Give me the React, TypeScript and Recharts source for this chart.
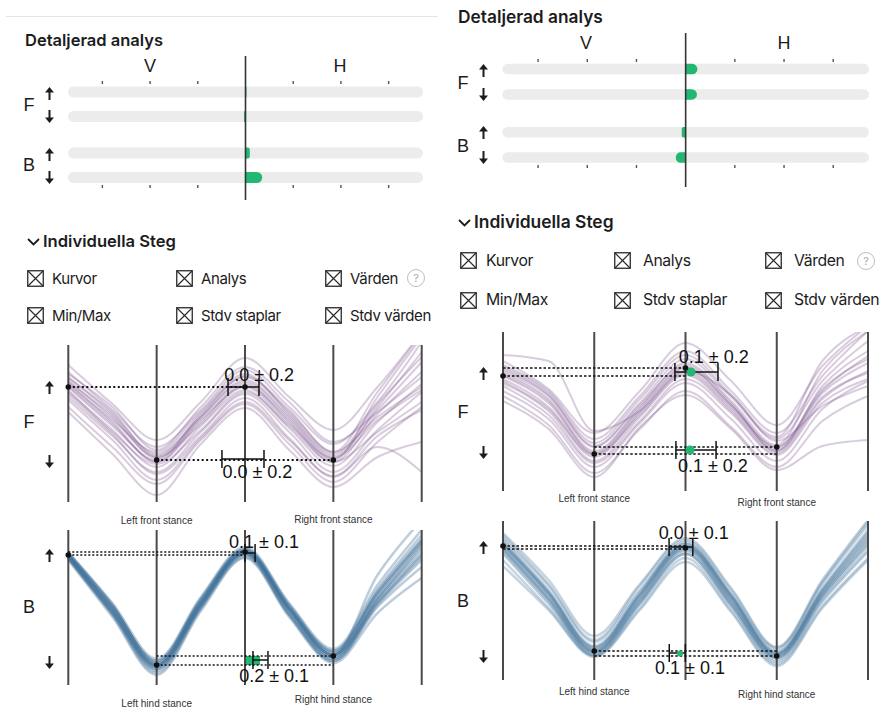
import React from "react";
import {
  BarChart,
  Bar,
  ComposedChart,
  Line,
  Scatter,
  ErrorBar,
  XAxis,
  YAxis,
  ReferenceLine,
  ReferenceDot,
  ReferenceArea,
} from "recharts";

// ---------------------------------------------------------------------------
// Data
// ---------------------------------------------------------------------------

// detail bars: rows F up, F down, (gap), B up, B down
const BAR_ROWS = [0, 1, 2.5, 3.5];
const BAR_TICKS = [-3, -2, -1, 1, 2, 3];
const LEFT_BAR_VALUES = [0.02, -0.03, 0.09, 0.35];
const RIGHT_BAR_VALUES = [0.24, 0.23, -0.08, -0.2];

const CHECK_ROW_1 = ["Kurvor", "Analys", "Värden"];
const CHECK_ROW_2 = ["Min/Max", "Stdv staplar", "Stdv värden"];

// step curves, sampled at STEP_X
const STEP_X = [0, 0.5, 1, 1.5, 2, 2.5, 3, 3.5, 4];
const STANCE_LINES = [0, 1, 2, 3, 4];
const STANCE_TICKS = [1, 3];
const FRONT_LABELS = ["Left front stance", "Right front stance"];
const HIND_LABELS = ["Left hind stance", "Right hind stance"];

const LEFT_F_CURVES = [
  [118, 80, 40, 80, 118, 80, 40, 88, 130],
  [125, 88, 48, 85, 122, 86, 46, 92, 140],
  [110, 72, 35, 76, 112, 74, 36, 80, 118],
  [130, 92, 55, 92, 132, 95, 58, 100, 160],
  [105, 66, 30, 70, 108, 70, 30, 72, 110],
  [137, 98, 62, 100, 144, 105, 72, 115, 170],
  [95, 55, 18, 62, 98, 58, 20, 60, 95],
  [90, 48, 7, 58, 94, 52, 15, 45, 60],
  [120, 86, 44, 82, 115, 78, 44, 95, 150],
  [115, 76, 42, 88, 125, 90, 50, 85, 115],
  [112, 70, 38, 72, 110, 76, 40, 70, 100],
  [122, 84, 45, 78, 116, 82, 42, 105, 165],
  [108, 68, 28, 66, 104, 64, 25, 55, 30],
  [128, 95, 52, 95, 135, 100, 60, 90, 125],
  [116, 78, 40, 84, 120, 84, 44, 82, 112],
  [119, 82, 50, 90, 128, 88, 48, 98, 145],
  [102, 62, 22, 64, 100, 62, 26, 66, 92],
  [124, 90, 46, 86, 126, 92, 50, 110, 168],
];

const LEFT_B_CURVES = [
  [130, 76, 20, 82, 133, 76, 30, 88, 140],
  [128, 72, 16, 78, 131, 72, 26, 84, 132],
  [132, 80, 22, 86, 136, 80, 32, 92, 145],
  [126, 70, 12, 76, 128, 70, 24, 80, 125],
  [131, 78, 24, 84, 134, 78, 34, 96, 150],
  [129, 74, 18, 80, 132, 74, 28, 86, 138],
  [133, 82, 26, 88, 138, 82, 36, 100, 155],
  [127, 71, 14, 78, 130, 70, 24, 78, 118],
  [130, 77, 20, 83, 134, 77, 30, 90, 142],
  [128, 73, 18, 80, 132, 76, 30, 82, 128],
  [131, 79, 24, 86, 135, 78, 32, 94, 146],
  [125, 68, 10, 74, 127, 68, 22, 72, 107],
  [130, 75, 20, 81, 133, 75, 28, 86, 135],
  [132, 80, 22, 84, 136, 80, 34, 92, 143],
  [127, 72, 16, 78, 130, 72, 26, 82, 130],
  [129, 76, 19, 82, 133, 76, 30, 110, 165],
];

const RIGHT_F_CURVES = [
  [115, 88, 37, 80, 123, 86, 44, 100, 135],
  [108, 80, 30, 74, 116, 80, 38, 92, 120],
  [122, 96, 45, 88, 132, 94, 52, 110, 150],
  [100, 72, 24, 68, 108, 72, 30, 82, 110],
  [136, 130, 60, 80, 120, 96, 50, 85, 105],
  [118, 92, 40, 84, 128, 90, 46, 120, 160],
  [95, 66, 18, 62, 100, 64, 24, 70, 95],
  [112, 84, 34, 78, 120, 84, 42, 98, 128],
  [126, 100, 52, 95, 140, 100, 58, 115, 160],
  [90, 62, 14, 64, 96, 62, 21, 45, 51],
  [120, 95, 44, 86, 126, 88, 40, 105, 140],
  [105, 76, 28, 70, 112, 78, 36, 88, 112],
  [130, 102, 58, 100, 148, 110, 66, 125, 165],
  [116, 90, 38, 82, 124, 86, 44, 102, 132],
  [110, 82, 36, 76, 118, 82, 40, 94, 118],
  [124, 98, 48, 92, 136, 96, 54, 130, 165],
];

const RIGHT_B_CURVES = [
  [134, 84, 29, 82, 132, 80, 24, 86, 140],
  [140, 90, 34, 88, 138, 86, 28, 92, 150],
  [128, 78, 25, 76, 126, 74, 20, 80, 130],
  [145, 96, 40, 94, 140, 90, 32, 98, 158],
  [120, 72, 24, 72, 122, 70, 16, 74, 122],
  [136, 86, 31, 84, 134, 82, 26, 88, 144],
  [130, 80, 27, 78, 128, 76, 22, 82, 134],
  [142, 94, 38, 90, 136, 86, 30, 96, 155],
  [114, 70, 23, 70, 118, 68, 14, 72, 120],
  [138, 88, 33, 86, 136, 84, 27, 90, 146],
  [132, 82, 28, 80, 130, 78, 23, 84, 136],
  [147, 100, 44, 96, 142, 92, 33, 100, 160],
  [126, 76, 25, 76, 126, 74, 18, 78, 128],
  [135, 86, 30, 84, 133, 82, 25, 87, 142],
  [131, 81, 28, 80, 131, 78, 22, 84, 138],
  [137, 88, 32, 86, 134, 84, 26, 90, 148],
];

// mean levels (dotted lines), dots, stdv bars, value texts
const LEFT_F_UPPER = [115];
const LEFT_F_LOWER = [42];
const LEFT_F_DOTS = [{ x: 0, y: 115 }, { x: 2, y: 115 }, { x: 1, y: 42 }, { x: 3, y: 42 }];
const LEFT_F_ERRS = [{ x: 1.983, y: 115, e: 0.175 }, { x: 1.977, y: 43, e: 0.238 }];
const LEFT_F_TEXTS = [{ x: 2.16, y: 127, text: "0.0 ± 0.2" }, { x: 2.14, y: 30, text: "0.0 ± 0.2" }];

const LEFT_B_UPPER = [133, 130];
const LEFT_B_LOWER = [29, 20];
const LEFT_B_DOTS = [{ x: 0, y: 130 }, { x: 2, y: 133 }, { x: 1, y: 20 }, { x: 3, y: 29 }];
const LEFT_B_ERRS = [{ x: 2.057, y: 132, e: 0.057 }, { x: 2.175, y: 25, e: 0.085 }];
const LEFT_B_TEXTS = [{ x: 2.215, y: 143, text: "0.1 ± 0.1" }, { x: 2.33, y: 9, text: "0.2 ± 0.1" }];
const LEFT_B_GREEN = [{ x1: 2, x2: 2.17, y1: 20, y2: 29 }];

const RIGHT_F_UPPER = [123, 115];
const RIGHT_F_LOWER = [44, 37];
const RIGHT_F_DOTS = [{ x: 0, y: 115 }, { x: 2, y: 123 }, { x: 1, y: 37 }, { x: 3, y: 44 }];
const RIGHT_F_ERRS = [{ x: 2.12, y: 119, e: 0.236 }, { x: 2.115, y: 41, e: 0.22 }];
const RIGHT_F_TEXTS = [{ x: 2.31, y: 134, text: "0.1 ± 0.2" }, { x: 2.3, y: 25, text: "0.1 ± 0.2" }];
const RIGHT_F_MEAN = [{ x: 2.06, y: 119 }, { x: 2.05, y: 41 }];

const RIGHT_B_UPPER = [134, 131];
const RIGHT_B_LOWER = [29, 24];
const RIGHT_B_DOTS = [{ x: 0, y: 134 }, { x: 2, y: 132 }, { x: 1, y: 29 }, { x: 3, y: 24 }];
const RIGHT_B_ERRS = [{ x: 1.95, y: 133, e: 0.13 }, { x: 1.91, y: 27, e: 0.088 }];
const RIGHT_B_TEXTS = [{ x: 2.09, y: 147, text: "0.0 ± 0.1" }, { x: 2.05, y: 12, text: "0.1 ± 0.1" }];
const RIGHT_B_MEAN = [{ x: 1.94, y: 26.5 }];

// ---------------------------------------------------------------------------
// Small icons
// ---------------------------------------------------------------------------

const INK = "#1c1c1c";
const GREEN = "#23b872";
const LABEL_FONT = "'Liberation Sans', Arial, sans-serif";

function Arrow({ x, y, down }: { x: number; y: number; down?: boolean }) {
  return (
    <svg
      width={9}
      height={13}
      viewBox="0 0 9 13"
      style={{ position: "absolute", left: x - 4.5, top: y - 6.5, transform: down ? "rotate(180deg)" : undefined }}
    >
      <path d="M4.5 0 L9 5.6 L0 5.6 Z" fill={INK} />
      <rect x={3.5} y={4} width={2} height={9} fill={INK} />
    </svg>
  );
}

function CheckBox({ x, y }: { x: number; y: number }) {
  return (
    <svg width={17} height={17} style={{ position: "absolute", left: x, top: y - 8.5 }}>
      <rect x={0.75} y={0.75} width={15.5} height={15.5} fill="none" stroke="#2a2a2a" strokeWidth={1.3} />
      <path d="M1 1 L16 16 M16 1 L1 16" stroke="#2a2a2a" strokeWidth={1.2} />
    </svg>
  );
}

function Txt({
  x,
  y,
  children,
  center,
  style,
}: {
  x: number;
  y: number;
  children: React.ReactNode;
  center?: boolean;
  style?: React.CSSProperties;
}) {
  return (
    <div
      style={{
        position: "absolute",
        left: x,
        top: y,
        lineHeight: 1,
        whiteSpace: "nowrap",
        transform: center ? "translate(-50%, -50%)" : "translateY(-50%)",
        ...style,
      }}
    >
      {children}
    </div>
  );
}

// ---------------------------------------------------------------------------
// Detail bars (V / H)
// ---------------------------------------------------------------------------

interface BarBox {
  left: number;
  top: number;
  w: number;
  h: number;
  plotLeft: number;
  plotRight: number;
  plotTop: number;
  plotBottom: number;
  row0: number; // pixel centre of first row
  rowUnit: number; // px per row unit
  span: number; // half domain
  lineTop: number;
  lineBottom: number;
  barSize: number;
}

function DetailBars({ values, box }: { values: number[]; box: BarBox }) {
  const rows = BAR_ROWS.map((r, i) => ({ row: r, value: values[i] }));
  const toRow = (py: number) => (py - box.row0) / box.rowUnit;
  const r = box.barSize / 2;
  const tickLine = { stroke: "#555", strokeWidth: 1.4 };
  return (
    <div style={{ position: "absolute", left: box.left, top: box.top }}>
      <BarChart
        layout="vertical"
        width={box.w}
        height={box.h}
        data={rows}
        margin={{
          top: box.plotTop - box.top - 1,
          bottom: box.top + box.h - box.plotBottom - 1,
          left: box.plotLeft - box.left,
          right: box.left + box.w - box.plotRight,
        }}
      >
        <XAxis
          xAxisId="top"
          orientation="top"
          type="number"
          domain={[-box.span, box.span]}
          allowDataOverflow
          ticks={BAR_TICKS}
          tickFormatter={() => ""}
          tickSize={3}
          tickLine={tickLine}
          axisLine={false}
          height={1}
        />
        <XAxis
          xAxisId="bottom"
          orientation="bottom"
          type="number"
          domain={[-box.span, box.span]}
          allowDataOverflow
          ticks={BAR_TICKS}
          tickFormatter={() => ""}
          tickSize={3}
          tickLine={tickLine}
          axisLine={false}
          height={1}
        />
        <YAxis
          type="number"
          dataKey="row"
          domain={[toRow(box.plotTop), toRow(box.plotBottom)]}
          ticks={BAR_ROWS}
          allowDataOverflow
          hide
        />
        <Bar
          xAxisId="top"
          dataKey="value"
          barSize={box.barSize}
          fill={GREEN}
          radius={[0, r, r, 0]}
          background={{ fill: "#ececec", radius: r }}
          isAnimationActive={false}
        />
        <ReferenceLine
          xAxisId="top"
          segment={[
            { x: 0, y: toRow(box.lineTop) },
            { x: 0, y: toRow(box.lineBottom) },
          ]}
          ifOverflow="visible"
          stroke="#333"
          strokeWidth={1.6}
        />
      </BarChart>
    </div>
  );
}

// ---------------------------------------------------------------------------
// Step chart (individual strides)
// ---------------------------------------------------------------------------

interface StepBox {
  left: number;
  top: number;
  w: number;
  h: number;
  plotLeft: number;
  plotRight: number;
  plotTop: number;
  plotBottom: number;
}

interface StepProps {
  box: StepBox;
  curves: number[][];
  color: string;
  opacity: number;
  strokeWidth: number;
  upper: number[];
  lower: number[];
  dots: { x: number; y: number }[];
  errs: { x: number; y: number; e: number }[];
  texts: { x: number; y: number; text: string }[];
  greenAreas?: { x1: number; x2: number; y1: number; y2: number }[];
  means?: { x: number; y: number }[];
  meanR?: number;
  stance: string[];
  stanceDy: number[];
  dash: string;
  dashWidth: number;
}

function StepChart(p: StepProps) {
  const { box } = p;
  const rows = STEP_X.map((x, i) => {
    const row: Record<string, number> = { x };
    p.curves.forEach((c, k) => (row["c" + k] = c[i]));
    return row;
  });
  const plotH = box.plotBottom - box.plotTop;
  const localBottom = box.plotBottom - box.top;

  const renderTick = (t: any) => {
    const idx = t.payload.value === STANCE_TICKS[0] ? 0 : 1;
    return (
      <text
        x={t.x}
        y={localBottom + p.stanceDy[idx]}
        textAnchor="middle"
        dominantBaseline="central"
        fontSize={10}
        fill="#333"
        fontFamily={LABEL_FONT}
      >
        {p.stance[idx]}
      </text>
    );
  };

  return (
    <div style={{ position: "absolute", left: box.left, top: box.top }}>
      <ComposedChart
        width={box.w}
        height={box.h}
        data={rows}
        margin={{
          top: box.plotTop - box.top,
          bottom: 0,
          left: box.plotLeft - box.left,
          right: box.left + box.w - box.plotRight,
        }}
      >
        <XAxis
          dataKey="x"
          type="number"
          domain={[0, 4]}
          ticks={STANCE_TICKS}
          interval={0}
          axisLine={false}
          tickLine={false}
          height={box.top + box.h - box.plotBottom}
          tick={renderTick}
        />
        <YAxis type="number" domain={[0, plotH]} allowDataOverflow hide />

        {p.curves.map((_, k) => (
          <Line
            key={k}
            dataKey={"c" + k}
            type="monotone"
            stroke={p.color}
            strokeOpacity={p.opacity}
            strokeWidth={p.strokeWidth}
            dot={false}
            activeDot={false}
            isAnimationActive={false}
          />
        ))}

        {STANCE_LINES.map((x) => (
          <ReferenceLine key={"v" + x} x={x} stroke="#4a4a4a" strokeWidth={2} />
        ))}

        {p.upper.map((y, i) => (
          <ReferenceLine
            key={"u" + i}
            segment={[{ x: 0, y }, { x: 2, y }]}
            stroke="#111"
            strokeWidth={p.dashWidth}
            strokeDasharray={p.dash}
          />
        ))}
        {p.lower.map((y, i) => (
          <ReferenceLine
            key={"l" + i}
            segment={[{ x: 1, y }, { x: 3, y }]}
            stroke="#111"
            strokeWidth={p.dashWidth}
            strokeDasharray={p.dash}
          />
        ))}

        {(p.greenAreas || []).map((g, i) => (
          <ReferenceArea key={"g" + i} x1={g.x1} x2={g.x2} y1={g.y1} y2={g.y2} fill={GREEN} fillOpacity={1} stroke="none" />
        ))}
        {(p.means || []).map((m, i) => (
          <ReferenceDot key={"m" + i} x={m.x} y={m.y} r={p.meanR || 4} fill={GREEN} stroke="none" />
        ))}

        <Scatter data={p.errs} dataKey="y" isAnimationActive={false} shape={() => <g />}>
          <ErrorBar dataKey="e" direction="x" width={9} stroke="#111" strokeWidth={1.5} />
        </Scatter>

        {p.dots.map((d, i) => (
          <ReferenceDot key={"d" + i} x={d.x} y={d.y} r={2.8} fill="#111" stroke="none" />
        ))}

        {p.texts.map((t, i) => (
          <ReferenceDot
            key={"t" + i}
            x={t.x}
            y={t.y}
            r={0}
            fill="none"
            stroke="none"
            label={{ value: t.text, position: "center", fontSize: 18, fill: "#111", fontFamily: LABEL_FONT }}
          />
        ))}
      </ComposedChart>
    </div>
  );
}

// ---------------------------------------------------------------------------
// Panel header pieces
// ---------------------------------------------------------------------------

interface PanelText {
  scale: number;
  title: { x: number; y: number };
  v: { x: number; y: number };
  hh: { x: number; y: number };
  labelX: number;
  arrowX: number;
  barF: number;
  barB: number;
  barArrows: number[];
  steg: { x: number; y: number };
  boxCols: number[];
  textCols: number[];
  checkRows: number[];
  qx: number;
  lineF: number;
  lineFArrows: number[];
  lineB: number;
  lineBArrows: number[];
}

function PanelTexts({ t }: { t: PanelText }) {
  const letter: React.CSSProperties = { fontFamily: LABEL_FONT, fontSize: 18, color: INK };
  const s = t.scale;
  return (
    <>
      <Txt x={t.title.x} y={t.title.y} style={{ fontSize: 16.5 * s, fontWeight: 600, color: INK }}>
        Detaljerad analys
      </Txt>
      <Txt x={t.v.x} y={t.v.y} center style={letter}>V</Txt>
      <Txt x={t.hh.x} y={t.hh.y} center style={letter}>H</Txt>
      <Txt x={t.labelX} y={t.barF} center style={letter}>F</Txt>
      <Txt x={t.labelX} y={t.barB} center style={letter}>B</Txt>
      {t.barArrows.map((y, i) => (
        <Arrow key={"ba" + i} x={t.arrowX} y={y} down={i % 2 === 1} />
      ))}

      <svg width={13} height={8} style={{ position: "absolute", left: t.steg.x, top: t.steg.y - 3 }}>
        <polyline points="1,1 6.5,6.5 12,1" fill="none" stroke={INK} strokeWidth={1.8} />
      </svg>
      <Txt x={t.steg.x + 16} y={t.steg.y} style={{ fontSize: 16.6 * s, fontWeight: 600, color: INK }}>
        Individuella Steg
      </Txt>

      {[CHECK_ROW_1, CHECK_ROW_2].map((row, r) =>
        row.map((label, c) => (
          <React.Fragment key={"cb" + r + c}>
            <CheckBox x={t.boxCols[c]} y={t.checkRows[r]} />
            <Txt
              x={t.textCols[c]}
              y={t.checkRows[r]}
              style={{ fontSize: 15 * s, letterSpacing: -0.4, color: INK }}
            >
              {label}
            </Txt>
          </React.Fragment>
        ))
      )}
      <div
        style={{
          position: "absolute",
          left: t.qx - 9,
          top: t.checkRows[0] - 9,
          width: 16,
          height: 16,
          borderRadius: "50%",
          border: "1px solid #bdbdbd",
          color: "#aaa",
          fontSize: 11,
          lineHeight: "16px",
          textAlign: "center",
        }}
      >
        ?
      </div>

      <Txt x={t.labelX} y={t.lineF} center style={letter}>F</Txt>
      {t.lineFArrows.map((y, i) => (
        <Arrow key={"fa" + i} x={t.arrowX} y={y} down={i === 1} />
      ))}
      <Txt x={t.labelX} y={t.lineB} center style={letter}>B</Txt>
      {t.lineBArrows.map((y, i) => (
        <Arrow key={"ha" + i} x={t.arrowX} y={y} down={i === 1} />
      ))}
    </>
  );
}

const LEFT_TEXT: PanelText = {
  scale: 1,
  title: { x: 25, y: 40 },
  v: { x: 150, y: 66 },
  hh: { x: 340, y: 66 },
  labelX: 29,
  arrowX: 49,
  barF: 105,
  barB: 165,
  barArrows: [93, 116, 154, 177],
  steg: { x: 27, y: 241 },
  boxCols: [27, 176, 325],
  textCols: [52, 201, 350],
  checkRows: [278, 315],
  qx: 416,
  lineF: 422,
  lineFArrows: [387, 461],
  lineB: 607,
  lineBArrows: [555, 662],
};

const RIGHT_TEXT: PanelText = {
  scale: 1.05,
  title: { x: 458, y: 17 },
  v: { x: 586, y: 42.5 },
  hh: { x: 784, y: 42.5 },
  labelX: 463,
  arrowX: 483,
  barF: 82.5,
  barB: 146,
  barArrows: [70, 94, 132, 157],
  steg: { x: 458, y: 222 },
  boxCols: [460, 614, 765],
  textCols: [486, 643, 794],
  checkRows: [260.5, 300],
  qx: 866,
  lineF: 412,
  lineFArrows: [373, 452],
  lineB: 601,
  lineBArrows: [547, 656],
};

// ---------------------------------------------------------------------------
// App
// ---------------------------------------------------------------------------

export default function App() {
  const purple = "#7d5590";
  const blue = "#3f7199";
  return (
    <div
      style={{
        position: "absolute",
        left: 0,
        top: 0,
        width: 886,
        height: 707,
        background: "#fff",
        overflow: "hidden",
        fontFamily: "Inter, 'Noto Sans', sans-serif",
        color: INK,
      }}
    >
      <div style={{ position: "absolute", left: 6, top: 16, width: 432, height: 1, background: "#e6e6e6" }} />

      <DetailBars
        values={LEFT_BAR_VALUES}
        box={{
          left: 0, top: 50, w: 443, h: 160,
          plotLeft: 68, plotRight: 423, plotTop: 84, plotBottom: 185,
          row0: 91.7, rowUnit: 24.43, span: 3.72,
          lineTop: 56, lineBottom: 200, barSize: 11,
        }}
      />
      <DetailBars
        values={RIGHT_BAR_VALUES}
        box={{
          left: 443, top: 25, w: 443, h: 170,
          plotLeft: 502.3, plotRight: 869, plotTop: 62, plotBottom: 165,
          row0: 69.5, rowUnit: 25.29, span: 3.727,
          lineTop: 33, lineBottom: 187, barSize: 10.5,
        }}
      />

      <StepChart
        box={{ left: 0, top: 335, w: 443, h: 195, plotLeft: 68.3, plotRight: 421.7, plotTop: 345, plotBottom: 502 }}
        curves={LEFT_F_CURVES}
        color={purple}
        opacity={0.3}
        strokeWidth={2}
        upper={LEFT_F_UPPER}
        lower={LEFT_F_LOWER}
        dots={LEFT_F_DOTS}
        errs={LEFT_F_ERRS}
        texts={LEFT_F_TEXTS}
        stance={FRONT_LABELS}
        stanceDy={[18, 17]}
        dash="2 2.5"
        dashWidth={2}
      />
      <StepChart
        box={{ left: 0, top: 525, w: 443, h: 182, plotLeft: 68.3, plotRight: 421.7, plotTop: 530, plotBottom: 685 }}
        curves={LEFT_B_CURVES}
        color={blue}
        opacity={0.35}
        strokeWidth={2.5}
        upper={LEFT_B_UPPER}
        lower={LEFT_B_LOWER}
        dots={LEFT_B_DOTS}
        errs={LEFT_B_ERRS}
        texts={LEFT_B_TEXTS}
        greenAreas={LEFT_B_GREEN}
        stance={HIND_LABELS}
        stanceDy={[18, 14]}
        dash="2 2"
        dashWidth={1.3}
      />
      <StepChart
        box={{ left: 443, top: 322, w: 443, h: 190, plotLeft: 503, plotRight: 868, plotTop: 332, plotBottom: 491 }}
        curves={RIGHT_F_CURVES}
        color={purple}
        opacity={0.3}
        strokeWidth={2}
        upper={RIGHT_F_UPPER}
        lower={RIGHT_F_LOWER}
        dots={RIGHT_F_DOTS}
        errs={RIGHT_F_ERRS}
        texts={RIGHT_F_TEXTS}
        means={RIGHT_F_MEAN}
        meanR={4.5}
        stance={FRONT_LABELS}
        stanceDy={[7, 11]}
        dash="2.5 2"
        dashWidth={1.3}
      />
      <StepChart
        box={{ left: 443, top: 512, w: 443, h: 195, plotLeft: 503, plotRight: 868, plotTop: 521, plotBottom: 680 }}
        curves={RIGHT_B_CURVES}
        color={blue}
        opacity={0.3}
        strokeWidth={2.5}
        upper={RIGHT_B_UPPER}
        lower={RIGHT_B_LOWER}
        dots={RIGHT_B_DOTS}
        errs={RIGHT_B_ERRS}
        texts={RIGHT_B_TEXTS}
        means={RIGHT_B_MEAN}
        meanR={3}
        stance={HIND_LABELS}
        stanceDy={[11, 14]}
        dash="2.5 2"
        dashWidth={1.3}
      />

      <PanelTexts t={LEFT_TEXT} />
      <PanelTexts t={RIGHT_TEXT} />
    </div>
  );
}
